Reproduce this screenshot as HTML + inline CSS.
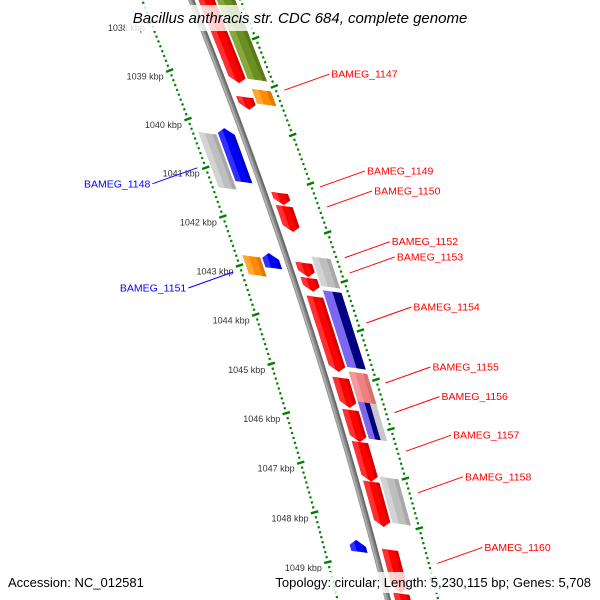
<!DOCTYPE html>
<html><head><meta charset="utf-8">
<style>
html,body{margin:0;padding:0;background:#fff;width:600px;height:600px;overflow:hidden;}
svg{display:block;overflow:hidden;font-family:"Liberation Sans","DejaVu Sans",sans-serif;}
</style></head>
<body>
<svg id="chart" width="600" height="600" viewBox="0 0 600 600" xmlns="http://www.w3.org/2000/svg">
<g id="ticks"></g>
<g id="backbone"></g>
<g id="genes"></g>
<g id="labels"></g>
<rect x="125" y="5" width="352" height="26" fill="#fff" opacity="0.8"/>
<text x="300" y="23" text-anchor="middle" font-size="15" font-style="italic" fill="#000">Bacillus anthracis str. CDC 684, complete genome</text>
<rect x="5" y="572" width="140" height="21" fill="#fff" opacity="0.8"/>
<text x="8" y="587" font-size="13" fill="#000">Accession: NC_012581</text>
<rect x="258" y="572" width="337" height="21" fill="#fff" opacity="0.8"/>
<text x="591" y="587" font-size="13" text-anchor="end" fill="#000">Topology: circular; Length: 5,230,115 bp; Genes: 5,708</text>
</svg>
<script>
// ---- data (kbp) ----
const tickLabels = [1038,1039,1040,1041,1042,1043,1044,1045,1046,1047,1048,1049];
const geneStart = [1036.7,1039.34,1041.31,1041.58,1042.74,1043.05,1043.43,1045.08,1045.73,1046.38,1047.18,1048.55,1049.43,
                   1036.67,1039.14,1042.58,1042.87,1043.27,1044.92,1045.53,1047.05,
                   1040.07,1042.63,1048.44,
                   1040.23,1042.75];
const geneEnd   = [1039.05,1039.6,1041.56,1042.11,1043.03,1043.33,1044.96,1045.69,1046.38,1047.18,1048.09,1049.41,1050.6,
                   1038.93,1039.44,1042.87,1043.18,1044.83,1045.58,1046.28,1047.98,
                   1041.18,1042.94,1048.68,
                   1041.36,1043.14];
const geneLane  = ["R1","R1","R1","R1","R1","R1","R1","R1","R1","R1","R1","R1","R1",
                   "R2","R2","R2","R2","R2","R2","R2","R2",
                   "L1","L1","L1",
                   "L2","L2"];
const geneStrand= [1,1,1,1,1,1,1,1,1,1,1,1,1, 0,0,0,0,0,0,0,0, -1,-1,-1, 0,0];
const geneColor = ["red","red","red","red","red","red","red","red","red","red","red","red","red",
                   "olive","orange","grey","grey","bluenavy","pink","bluenavygrey","grey",
                   "blue","blue","blue",
                   "grey","orange"];
const labelNames = ["BAMEG_1147","BAMEG_1149","BAMEG_1150","BAMEG_1152","BAMEG_1153","BAMEG_1154","BAMEG_1155","BAMEG_1156","BAMEG_1157","BAMEG_1158","BAMEG_1160","BAMEG_1148","BAMEG_1151"];
const labelPos   = [1039.05,1041.04,1041.45,1042.49,1042.80,1043.82,1045.04,1045.64,1046.42,1047.26,1048.68,1041.03,1043.16];
const labelSide  = [1,1,1,1,1,1,1,1,1,1,1,-1,-1];

// ---- geometry ----
const NS="http://www.w3.org/2000/svg";
function yb(k){const d=k-1040;return 127+48.6*d+0.07*d*d;}
function xb(y){return 191.3+0.4016*y-0.000123*y*y;}
function pt(k,r){const y=yb(k);return [xb(y)+0.988*r,y+0.15*r];}
function normalAtY(y){const s=0.4016-0.000246*y;const n=Math.hypot(1,s);return [1/n,-s/n];}
function normal(k){return normalAtY(yb(k));}
// gene point: offset perpendicular to backbone, centred at same y as radial model
function gpt(k,r){
  const y0=yb(k)+0.15*r; const n=normalAtY(y0);
  const by=y0-r*n[1];
  const nn=normalAtY(by);
  return [xb(by)+r*nn[0], by+r*nn[1]];
}
const lanes={R1:[7,22],R2:[24,41],L1:[-23,-8],L2:[-41,-25]};
const palette={red:["#ff0000","#ff3030","#d80000"],olive:["#6b8e23","#86a83c","#5a7a1a"],orange:["#ff8c00","#ffa733","#e07800"],
 grey:["#bebebe","#d3d3d3","#a8a8a8"],blue:["#0000ff","#3030ff","#0000cc"],pink:["#f08080","#f49a9a","#d87070"]};
function mk(tag,attrs,parent){const e=document.createElementNS(NS,tag);for(const a in attrs)e.setAttribute(a,attrs[a]);parent.appendChild(e);return e;}
function poly(pts){return pts.map(p=>p[0].toFixed(2)+","+p[1].toFixed(2)).join(" ");}

// ticks
const tg=document.getElementById("ticks");
[-53,53].forEach(function(r){
  for(let i=10360;i<=10510;i++){
    const k=i/10, c=pt(k,r), n=normal(k), major=(i%10===0);
    const L=major?3.8:1.1;
    const ln=mk("line",{x1:c[0]-n[0]*L,y1:c[1]-n[1]*L,x2:c[0]+n[0]*L,y2:c[1]+n[1]*L,stroke:"#008000","stroke-width":major?2.4:2.2},tg);
    
    
  }
});
tickLabels.forEach(function(k){
  const c=pt(k,-53);
  const t=mk("text",{x:c[0]-6,y:c[1]+9,"font-size":"9","text-anchor":"end",fill:"#333"},tg);
  
  
  t.textContent=k+" kbp";
});

// backbone
const bg=document.getElementById("backbone");
function line(r){const a=[];for(let k=1036;k<=1051;k+=0.1)a.push(pt(k,r));return poly(a);}
const b1=mk("polyline",{points:line(0),fill:"none",stroke:"#8a8a8a","stroke-width":6},bg);


const b2=mk("polyline",{points:line(-1.6),fill:"none",stroke:"#b0b0b0","stroke-width":1.6},bg);


const b3=mk("polyline",{points:line(2.2),fill:"none",stroke:"#666","stroke-width":1.5},bg);



// genes
const gg=document.getElementById("genes");
function shape(k1,k2,r1,r2,strand,ra,rb){
  const h=Math.min(0.12,(k2-k1)*0.5), rm=(r1+r2)/2;
  function tipK(r,base,dir){const f=1-Math.abs(r-rm)/((r2-r1)/2);return base+dir*h*f;}
  if(strand===1){
    return [gpt(k1,ra),gpt(k1,rb),gpt(k2-h,rb),...(ra<rm&&rb>rm?[gpt(k2,rm)]:[gpt(tipK(rb,k2-h,1),rb)]),gpt(tipK(ra,k2-h,1),ra),gpt(k2-h,ra)];
  } else if(strand===-1){
    return [gpt(k2,ra),gpt(k2,rb),gpt(k1+h,rb),...(ra<rm&&rb>rm?[gpt(k1,rm)]:[gpt(tipK(rb,k1+h,-1),rb)]),gpt(tipK(ra,k1+h,-1),ra),gpt(k1+h,ra)];
  }
  return [gpt(k1,ra),gpt(k1,rb),gpt(k2,rb),gpt(k2,ra)];
}
for(let i=0;i<geneStart.length;i++){
  const r=lanes[geneLane[i]], k1=geneStart[i], k2=geneEnd[i], s=geneStrand[i], w=r[1]-r[0];
  const g=mk("g",{},gg);
  
  
  let strips;
  if(geneColor[i]==="bluenavy") strips=[[r[0],r[0]+w*0.5,"#7b68ee"],[r[0]+w*0.5,r[1],"#000080"]];
  else if(geneColor[i]==="bluenavygrey") strips=[[r[0],r[0]+w*0.35,"#7b68ee"],[r[0]+w*0.35,r[0]+w*0.65,"#000080"],[r[0]+w*0.65,r[1],"#c8c8c8"]];
  else {const p=palette[geneColor[i]];strips=[[r[0],r[1],p[0]],[r[0],r[0]+w*0.35,p[1]],[r[1]-w*0.22,r[1],p[2]]];}
  strips.forEach(function(st){
    const pg=mk("polygon",{points:poly(shape(k1,k2,r[0],r[1],s,st[0],st[1])),fill:st[2]},g);
    
    
  });
}

// labels
const lg=document.getElementById("labels");
for(let i=0;i<labelNames.length;i++){
  const side=labelSide[i], c=pt(labelPos[i],62*side), col=side>0?"#ff0000":"#0000ff";
  const ex=c[0]+45*side, ey=c[1]-16*side;
  const ln=mk("line",{x1:c[0],y1:c[1],x2:ex,y2:ey,stroke:col,"stroke-width":1},lg);
  
  
  const t=mk("text",{x:ex+2*side,y:ey+3.5,"font-size":"10.5","text-anchor":side>0?"start":"end",fill:col},lg);
  
  
  t.textContent=labelNames[i];
}
</script>
</body></html>
